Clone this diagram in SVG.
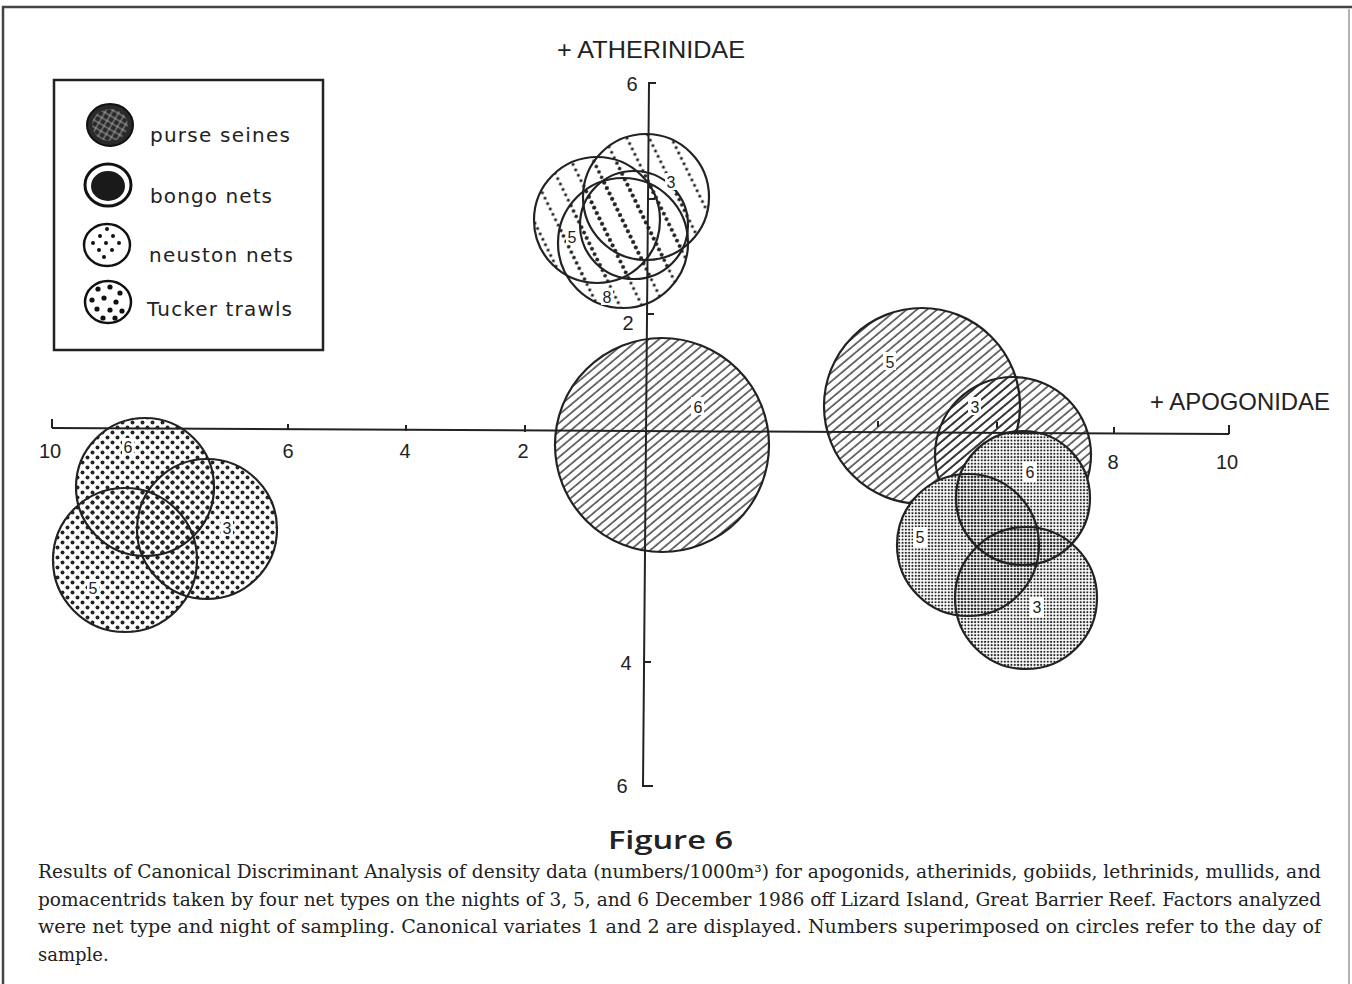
<svg xmlns="http://www.w3.org/2000/svg" width="1352" height="984" viewBox="0 0 1352 984">
<style>
.ax{stroke:#222;stroke-width:2;fill:none}
.ol{fill:none;stroke:#222;stroke-width:2.2}
.num{font-family:"Liberation Sans",Arial,sans-serif;font-size:20px;fill:#222;text-anchor:middle}
.lab{font-family:"Liberation Sans",Arial,sans-serif;font-size:16px;fill:#222;text-anchor:middle}
.title{font-family:"Liberation Sans",Arial,sans-serif;font-size:24px;fill:#222}
.leg{font-family:"DejaVu Sans",sans-serif;font-size:20px;fill:#222}
.cap{font-family:"DejaVu Serif","Liberation Serif",serif;font-size:18px;fill:#222}
.fig{font-family:"Open Sans","Noto Sans",sans-serif;font-size:26px;font-weight:600;fill:#222}
</style>
<defs>
<pattern id="hatch" patternUnits="userSpaceOnUse" width="6.5" height="6.5" patternTransform="rotate(50)">
<line x1="1" y1="0" x2="1" y2="6.5" stroke="#222" stroke-width="1.3"/>
</pattern>
<pattern id="dotline" patternUnits="userSpaceOnUse" width="20" height="6" patternTransform="rotate(-26)">
<circle cx="3" cy="3" r="1.6" fill="#222"/>
</pattern>
<pattern id="dots" patternUnits="userSpaceOnUse" width="10" height="10">
<circle cx="2.5" cy="2.5" r="2" fill="#222"/>
<circle cx="7.5" cy="7.5" r="2" fill="#222"/>
</pattern>
<pattern id="stip" patternUnits="userSpaceOnUse" width="3.3" height="3.3">
<circle cx="1.65" cy="1.65" r="1.1" fill="#222"/>
</pattern>
<pattern id="mottle" patternUnits="userSpaceOnUse" width="6" height="6" patternTransform="rotate(30)">
<path d="M0,3 H6 M3,0 V6" stroke="#bbb" stroke-width="0.8"/>
</pattern>
</defs>
<rect width="1352" height="984" fill="#fff"/>
<g id="frame">
<path d="M3,984 V7 H1352" fill="none" stroke="#444" stroke-width="2.5"/>
<line x1="1349" y1="9" x2="1349" y2="984" stroke="#999" stroke-width="1.5"/>
</g>
<g id="legend">
<rect x="54" y="80" width="269" height="270" fill="#fff" stroke="#222" stroke-width="2.5"/>
<g id="leg-purse">
<ellipse cx="110" cy="125" rx="23" ry="21" fill="#2a2a2a" stroke="#111" stroke-width="2"/>
<ellipse cx="110" cy="125" rx="18" ry="16" fill="url(#mottle)"/>
<text class="leg" x="150" y="142" textLength="140">purse seines</text>
</g>
<g id="leg-bongo">
<ellipse cx="108" cy="185" rx="23" ry="21" fill="#fff" stroke="#111" stroke-width="3"/>
<ellipse cx="108" cy="186" rx="17" ry="15" fill="#1a1a1a"/>
<text class="leg" x="150" y="203" textLength="122">bongo nets</text>
</g>
<g id="leg-neuston">
<ellipse cx="107" cy="245" rx="23" ry="21" fill="#fff" stroke="#111" stroke-width="2.5"/>
<g fill="#111">
<circle cx="107" cy="229" r="2"/><circle cx="100" cy="236" r="2"/><circle cx="113" cy="236" r="2"/>
<circle cx="93" cy="243" r="2"/><circle cx="106" cy="243" r="2"/><circle cx="119" cy="243" r="2"/>
<circle cx="99" cy="250" r="2"/><circle cx="112" cy="250" r="2"/><circle cx="104" cy="257" r="2"/>
</g>
<text class="leg" x="149" y="262" textLength="144">neuston nets</text>
</g>
<g id="leg-tucker">
<ellipse cx="108" cy="302" rx="23" ry="21" fill="#fff" stroke="#111" stroke-width="2.5"/>
<g fill="#111">
<circle cx="98" cy="289" r="2.6"/><circle cx="110" cy="287" r="2.6"/><circle cx="120" cy="293" r="2.6"/>
<circle cx="92" cy="300" r="2.6"/><circle cx="104" cy="298" r="2.6"/><circle cx="116" cy="302" r="2.6"/>
<circle cx="97" cy="309" r="2.6"/><circle cx="110" cy="310" r="2.6"/><circle cx="122" cy="311" r="2.6"/>
<circle cx="103" cy="318" r="2.6"/><circle cx="115" cy="318" r="2.6"/>
</g>
<text class="leg" x="147" y="316" textLength="145">Tucker trawls</text>
</g>
</g>
<g id="top-cluster">
<g fill="url(#dotline)">
<circle cx="646" cy="197" r="63"/><circle cx="597" cy="220" r="63"/><circle cx="634" cy="225" r="54"/><circle cx="623" cy="243" r="65"/>
</g>
<g class="ol">
<circle cx="646" cy="197" r="63"/><circle cx="597" cy="220" r="63"/><circle cx="634" cy="225" r="54"/><circle cx="623" cy="243" r="65"/>
</g>
<rect x="665" y="173" width="12" height="17" fill="#fff"/>
<text class="lab" x="671" y="188">3</text>
<rect x="566" y="228" width="12" height="17" fill="#fff"/>
<text class="lab" x="572" y="243">5</text>
<rect x="601" y="288" width="12" height="17" fill="#fff"/>
<text class="lab" x="607" y="303">8</text>
</g>
<g id="center-circle">
<circle cx="662" cy="445" r="107" fill="#fff"/>
<circle cx="662" cy="445" r="107" fill="url(#hatch)"/>
<circle class="ol" cx="662" cy="445" r="107"/>
<rect x="691" y="397" width="13" height="18" fill="#fff"/>
<text class="lab" x="698" y="413">6</text>
</g>
<g id="left-cluster">
<g fill="#fff">
<circle cx="145" cy="487" r="69"/><circle cx="207" cy="529" r="70"/><circle cx="125" cy="560" r="72"/>
</g>
<g fill="url(#dots)">
<circle cx="145" cy="487" r="69"/><circle cx="207" cy="529" r="70"/><circle cx="125" cy="560" r="72"/>
</g>
<g class="ol">
<circle cx="145" cy="487" r="69"/><circle cx="207" cy="529" r="70"/><circle cx="125" cy="560" r="72"/>
</g>
<rect x="122" y="438" width="12" height="17" fill="#fff"/>
<text class="lab" x="128" y="453">6</text>
<rect x="221" y="519" width="12" height="17" fill="#fff"/>
<text class="lab" x="227" y="534">3</text>
<rect x="87" y="579" width="12" height="17" fill="#fff"/>
<text class="lab" x="93" y="594">5</text>
</g>
<g id="right-hatched">
<g fill="#fff">
<circle cx="922" cy="406" r="98"/><circle cx="1013" cy="455" r="78"/>
</g>
<g fill="url(#hatch)">
<circle cx="922" cy="406" r="98"/><circle cx="1013" cy="455" r="78"/>
</g>
<g class="ol">
<circle cx="922" cy="406" r="98"/><circle cx="1013" cy="455" r="78"/>
</g>
<rect x="883" y="352" width="13" height="18" fill="#fff"/>
<text class="lab" x="890" y="368">5</text>
<rect x="968" y="397" width="13" height="18" fill="#fff"/>
<text class="lab" x="975" y="413">3</text>
</g>
<g id="right-stippled">
<g fill="#fff">
<circle cx="1023" cy="498" r="67"/><circle cx="968" cy="545" r="71"/><circle cx="1026" cy="598" r="71"/>
</g>
<g fill="url(#stip)">
<circle cx="1023" cy="498" r="67"/><circle cx="968" cy="545" r="71"/><circle cx="1026" cy="598" r="71"/>
</g>
<g class="ol">
<circle cx="1023" cy="498" r="67"/><circle cx="968" cy="545" r="71"/><circle cx="1026" cy="598" r="71"/>
</g>
<rect x="1023" y="462" width="14" height="20" fill="#fff"/>
<text class="lab" x="1030" y="478">6</text>
<rect x="913" y="527" width="14" height="20" fill="#fff"/>
<text class="lab" x="920" y="543">5</text>
<rect x="1030" y="597" width="14" height="20" fill="#fff"/>
<text class="lab" x="1037" y="613">3</text>
</g>
<g id="axes">
<path class="ax" d="M52,428 L1229,434"/>
<path class="ax" d="M52,419 V428 M288,424 V430 M406,425 V431 M525,425 V432 M878,421 V427 M997,422 V428 M1114,427 V433 M1229,425 V434"/>
<path class="ax" d="M656,83 H649 L643,786 H653"/>
<path class="ax" d="M647,314 H654 M648,199 H655 M644,662 H651"/>
<text class="num" x="50" y="458">10</text>
<text class="num" x="288" y="458">6</text>
<text class="num" x="405" y="458">4</text>
<text class="num" x="523" y="458">2</text>
<text class="num" x="1113" y="469">8</text>
<text class="num" x="1227" y="469">10</text>
<text class="num" x="632" y="91">6</text>
<text class="num" x="628" y="330">2</text>
<text class="num" x="626" y="670">4</text>
<text class="num" x="622" y="793">6</text>
<text class="title" x="557" y="58" textLength="188" lengthAdjust="spacingAndGlyphs">+ ATHERINIDAE</text>
<text class="title" x="1150" y="410" textLength="180" lengthAdjust="spacingAndGlyphs">+ APOGONIDAE</text>
</g>
<g id="caption">
<text class="fig" x="608" y="849" textLength="125" lengthAdjust="spacingAndGlyphs">Figure 6</text>
<text class="cap" x="38" y="878" textLength="1283" lengthAdjust="spacingAndGlyphs">Results of Canonical Discriminant Analysis of density data (numbers/1000m³) for apogonids, atherinids, gobiids, lethrinids, mullids, and</text>
<text class="cap" x="38" y="906" textLength="1283" lengthAdjust="spacingAndGlyphs">pomacentrids taken by four net types on the nights of 3, 5, and 6 December 1986 off Lizard Island, Great Barrier Reef. Factors analyzed</text>
<text class="cap" x="38" y="933" textLength="1283" lengthAdjust="spacingAndGlyphs">were net type and night of sampling. Canonical variates 1 and 2 are displayed. Numbers superimposed on circles refer to the day of</text>
<text class="cap" x="38" y="961">sample.</text>
</g>
</svg>
